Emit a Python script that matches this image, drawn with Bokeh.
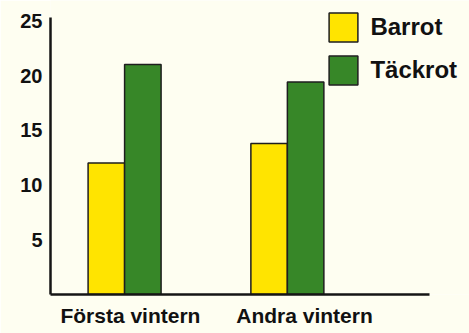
from bokeh.plotting import figure
from bokeh.models import Range1d, FixedTicker, Legend, LegendItem, ColumnDataSource
from bokeh.embed import file_html
from bokeh.resources import INLINE

# ---- data ----
winters = ["Första vintern", "Andra vintern"]
barrot = [12.0, 13.8]
tackrot = [21.0, 19.4]
series_names = ["Barrot", "Täckrot"]
y_ticks = [5, 10, 15, 20, 25]

# ---- style / layout ----
BG = "#FEFEF1"
YELLOW = "#FFE400"
GREEN = "#378728"
EDGE = "#1E1E1E"
FONT = "Liberation Sans"

group_centers = [2.03, 6.49]
label_pos = [2.19, 6.96]
bw = 1.0
x_axis_end = 10.38
y_axis_end = 25.3

p = figure(width=469, height=333, output_backend="svg", toolbar_location=None,
           title=None, x_range=Range1d(0, 11.48), y_range=Range1d(0, 26.85),
           min_border_left=50, min_border_right=0, min_border_top=0,
           min_border_bottom=39)
p.background_fill_color = BG
p.border_fill_color = BG
p.outline_line_color = None
p.xgrid.visible = False
p.ygrid.visible = False

src = ColumnDataSource(dict(
    xb=[c - bw / 2 for c in group_centers],
    xt=[c + bw / 2 for c in group_centers],
    barrot=barrot, tackrot=tackrot))

r1 = p.vbar(x="xb", top="barrot", width=bw, bottom=0, source=src,
            fill_color=YELLOW, line_color=EDGE, line_width=1.5)
r2 = p.vbar(x="xt", top="tackrot", width=bw, bottom=0, source=src,
            fill_color=GREEN, line_color=EDGE, line_width=1.5)

# axes
for ax in (p.xaxis[0], p.yaxis[0]):
    ax.axis_line_width = 2.5
    ax.axis_line_color = "#151515"
    ax.major_tick_line_color = None
    ax.minor_tick_line_color = None
    ax.major_tick_out = 0
    ax.major_tick_in = 0
    ax.minor_tick_out = 0
    ax.minor_tick_in = 0
    ax.major_label_text_font = FONT
    ax.major_label_text_font_style = "bold"
    ax.major_label_text_color = "#111111"

p.xaxis.bounds = (0, x_axis_end)
p.yaxis.bounds = (0, y_axis_end)
p.yaxis.major_label_text_font_size = "20px"
p.xaxis.major_label_text_font_size = "21px"

p.yaxis.ticker = FixedTicker(ticks=y_ticks)
p.yaxis.major_label_standoff = 8
p.xaxis.ticker = FixedTicker(ticks=label_pos)
p.xaxis.major_label_overrides = {label_pos[i]: winters[i] for i in range(len(winters))}
p.xaxis.major_label_standoff = 9

legend = Legend(items=[LegendItem(label=series_names[0], renderers=[r1]),
                       LegendItem(label=series_names[1], renderers=[r2])],
                location=(275.4, 206))
legend.glyph_width = 36
legend.glyph_height = 36
legend.spacing = 7
legend.padding = 0
legend.margin = 0
legend.label_standoff = 9
legend.label_text_font = FONT
legend.label_text_font_style = "bold"
legend.label_text_font_size = "24px"
legend.label_text_color = "#111111"
legend.border_line_color = None
legend.background_fill_alpha = 0
p.add_layout(legend)

open("out.html", "w").write(file_html(p, INLINE))
